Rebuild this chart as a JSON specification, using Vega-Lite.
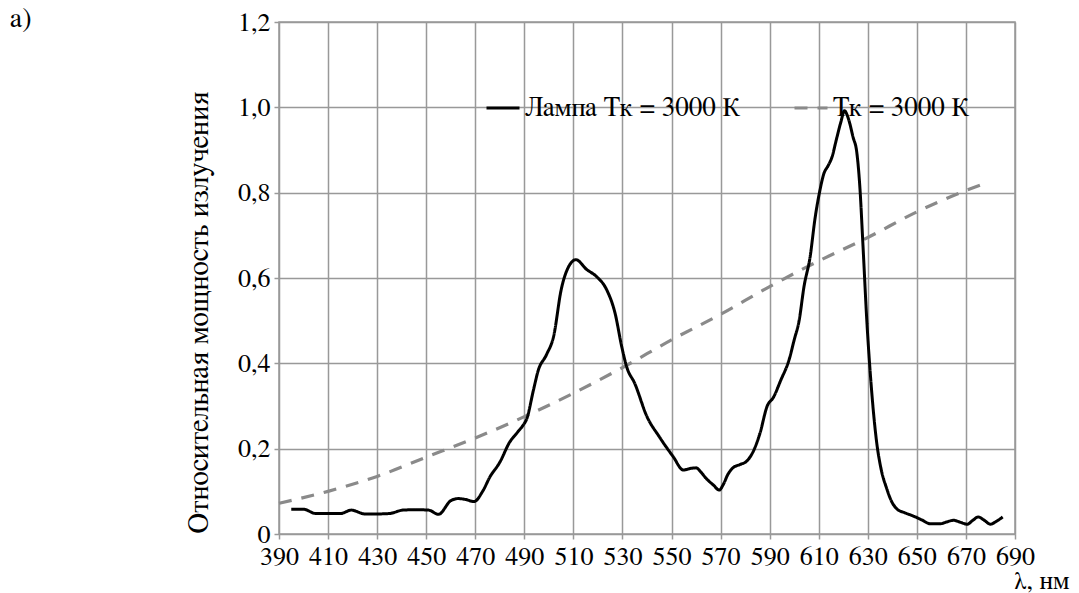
{
  "$schema": "https://vega.github.io/schema/vega-lite/v6.json",
  "width": 736,
  "height": 512,
  "autosize": {"type": "none"},
  "padding": {"left": 279, "top": 22, "right": 64, "bottom": 59},
  "background": "white",
  "title": {"text": "a)", "anchor": "start", "frame": "group", "offset": 0, "dx": -269, "dy": 46, "baseline": "alphabetic", "font": "FreeSerif", "fontSize": 28, "fontWeight": "normal", "color": "black"},
  "config": {
    "font": "FreeSerif",
    "view": {"stroke": "#999999", "strokeWidth": 1.5},
    "axis": {"labelFont": "FreeSerif", "titleFont": "FreeSerif", "labelFontSize": 26, "titleFontSize": 29, "titleFontWeight": "normal", "labelColor": "black", "titleColor": "black", "gridColor": "#999999", "gridWidth": 1.5, "gridOpacity": 1, "tickColor": "#999999", "tickWidth": 1.5, "tickSize": 5, "domain": false},
    "legend": {"labelFont": "FreeSerif", "labelFontSize": 27, "labelColor": "black", "labelLimit": 0}
  },
  "datasets": {
    "lamp": [
      {"nm": 395, "v": 0.058}, {"nm": 400, "v": 0.058}, {"nm": 405, "v": 0.048}, {"nm": 410, "v": 0.048}, {"nm": 415, "v": 0.048},
      {"nm": 419.5, "v": 0.056}, {"nm": 425, "v": 0.047}, {"nm": 430, "v": 0.047}, {"nm": 435, "v": 0.048}, {"nm": 440.5, "v": 0.056},
      {"nm": 446, "v": 0.057}, {"nm": 451, "v": 0.056}, {"nm": 455, "v": 0.046}, {"nm": 460, "v": 0.078}, {"nm": 463, "v": 0.083},
      {"nm": 466, "v": 0.081}, {"nm": 469.5, "v": 0.076}, {"nm": 473, "v": 0.1}, {"nm": 476, "v": 0.134}, {"nm": 480, "v": 0.168},
      {"nm": 484, "v": 0.215}, {"nm": 487, "v": 0.237}, {"nm": 489.5, "v": 0.255}, {"nm": 491, "v": 0.27}, {"nm": 493.7, "v": 0.337},
      {"nm": 495.7, "v": 0.384}, {"nm": 499, "v": 0.42}, {"nm": 502, "v": 0.465}, {"nm": 505, "v": 0.572}, {"nm": 508, "v": 0.626},
      {"nm": 511, "v": 0.643}, {"nm": 515.4, "v": 0.62}, {"nm": 519.5, "v": 0.603}, {"nm": 523.6, "v": 0.572}, {"nm": 527, "v": 0.517},
      {"nm": 529.7, "v": 0.439}, {"nm": 531.7, "v": 0.392}, {"nm": 535, "v": 0.353}, {"nm": 540, "v": 0.275}, {"nm": 545, "v": 0.228},
      {"nm": 550.7, "v": 0.181}, {"nm": 554.8, "v": 0.15}, {"nm": 558, "v": 0.154}, {"nm": 560, "v": 0.155}, {"nm": 562, "v": 0.145},
      {"nm": 564, "v": 0.131}, {"nm": 567, "v": 0.115}, {"nm": 569.5, "v": 0.103}, {"nm": 571, "v": 0.115}, {"nm": 573, "v": 0.14},
      {"nm": 575, "v": 0.155}, {"nm": 578, "v": 0.163}, {"nm": 580.5, "v": 0.17}, {"nm": 583, "v": 0.19}, {"nm": 586, "v": 0.235},
      {"nm": 589, "v": 0.3}, {"nm": 591.5, "v": 0.32}, {"nm": 594.5, "v": 0.36}, {"nm": 598, "v": 0.41}, {"nm": 600, "v": 0.455},
      {"nm": 602, "v": 0.5}, {"nm": 604, "v": 0.58}, {"nm": 606.5, "v": 0.65}, {"nm": 608.5, "v": 0.74}, {"nm": 610.5, "v": 0.806},
      {"nm": 612, "v": 0.843}, {"nm": 614, "v": 0.865}, {"nm": 615.5, "v": 0.885}, {"nm": 617, "v": 0.92}, {"nm": 619, "v": 0.965},
      {"nm": 620.5, "v": 0.992}, {"nm": 622, "v": 0.975}, {"nm": 624, "v": 0.93}, {"nm": 625.5, "v": 0.895}, {"nm": 626.8, "v": 0.81},
      {"nm": 628, "v": 0.68}, {"nm": 629.6, "v": 0.5}, {"nm": 631.5, "v": 0.34}, {"nm": 633.5, "v": 0.22}, {"nm": 635.5, "v": 0.15},
      {"nm": 637.5, "v": 0.11}, {"nm": 640, "v": 0.073}, {"nm": 642, "v": 0.058}, {"nm": 645, "v": 0.05}, {"nm": 649, "v": 0.041},
      {"nm": 652, "v": 0.033}, {"nm": 655.5, "v": 0.024}, {"nm": 659.5, "v": 0.024}, {"nm": 662, "v": 0.028}, {"nm": 665, "v": 0.032},
      {"nm": 667.5, "v": 0.028}, {"nm": 670.5, "v": 0.023}, {"nm": 673, "v": 0.033}, {"nm": 675, "v": 0.04}, {"nm": 677.5, "v": 0.032},
      {"nm": 680, "v": 0.023}, {"nm": 682.5, "v": 0.03}, {"nm": 685, "v": 0.04}
    ],
    "bb": [
      {"nm": 390, "v": 0.072}, {"nm": 410, "v": 0.1}, {"nm": 430, "v": 0.135}, {"nm": 450, "v": 0.18}, {"nm": 470, "v": 0.225},
      {"nm": 490, "v": 0.275}, {"nm": 510, "v": 0.33}, {"nm": 530, "v": 0.39}, {"nm": 550, "v": 0.455}, {"nm": 570, "v": 0.515},
      {"nm": 590, "v": 0.58}, {"nm": 610, "v": 0.64}, {"nm": 630, "v": 0.695}, {"nm": 650, "v": 0.755}, {"nm": 670, "v": 0.805},
      {"nm": 677, "v": 0.82}
    ]
  },
  "encoding": {
    "x": {"field": "nm", "type": "quantitative", "scale": {"domain": [390, 690], "nice": false, "zero": false},
      "axis": {"values": [390, 410, 430, 450, 470, 490, 510, 530, 550, 570, 590, 610, 630, 650, 670, 690], "labelPadding": 4, "labelFlush": false, "labelOverlap": false,
        "title": "λ, нм", "titleAlign": "right", "titleX": 790, "titleY": 46, "titleBaseline": "middle", "titleAnchor": null, "titleFontSize": 26}},
    "y": {"field": "v", "type": "quantitative", "scale": {"domain": [0, 1.2], "nice": false},
      "axis": {"values": [0, 0.2, 0.4, 0.6, 0.8, 1.0, 1.2], "labelPadding": 4, "labelFlush": false,
        "labelExpr": "datum.value == 0 ? '0' : replace(format(datum.value, '.1f'), '.', ',')",
        "title": "Относительная мощность излучения", "titleAngle": -90, "titleX": -81, "titleY": 290, "titleAlign": "center", "titleBaseline": "middle"}}
  },
  "layer": [
    {"data": {"name": "bb"}, "mark": {"type": "line", "strokeWidth": 3.2, "interpolate": "monotone"},
      "encoding": {"color": {"datum": "Тк = 3000 К", "type": "nominal", "scale": {"domain": ["Лампа Тк = 3000 К", "Тк = 3000 К"], "range": ["black", "#8a8a8a"]}, "legend": {"title": null, "orient": "none", "legendX": 206, "legendY": 68, "direction": "horizontal", "padding": 0, "symbolType": "stroke", "symbolSize": 1089, "symbolStrokeWidth": 3, "labelOffset": 4, "columnPadding": 47, "labelLimit": 0}},
        "strokeDash": {"datum": "Тк = 3000 К", "type": "nominal", "scale": {"domain": ["Лампа Тк = 3000 К", "Тк = 3000 К"], "range": [[1, 0], [13, 10]]}}}},
    {"data": {"name": "lamp"}, "mark": {"type": "line", "strokeWidth": 3, "interpolate": "monotone"},
      "encoding": {"color": {"datum": "Лампа Тк = 3000 К", "type": "nominal"},
        "strokeDash": {"datum": "Лампа Тк = 3000 К", "type": "nominal"}}}
  ]
}
